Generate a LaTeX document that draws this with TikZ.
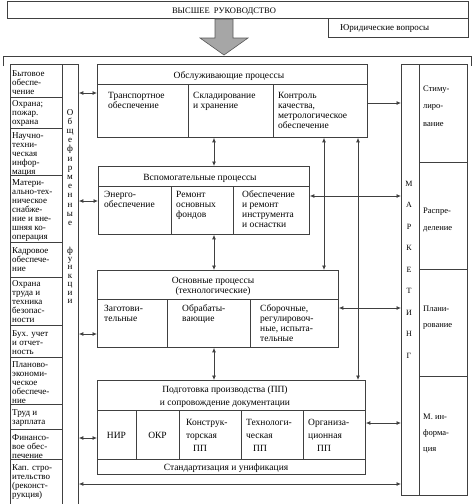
\documentclass[tikz,border=0pt]{standalone}
\usepackage{fontspec}
\setmainfont{Liberation Serif}
\usetikzlibrary{arrows.meta}
\colorlet{lc}{black!75}
\newcommand\fntA{\fontsize{9.5}{10}\selectfont}
\newcommand\fntB{\fontsize{9}{9}\selectfont}
\newcommand\fntM{\fontsize{9.5}{13}\selectfont}
\newcommand\tabL[1]{\begin{tabular}[t]{@{}l@{}}#1\end{tabular}}
\newcommand\tabC[1]{\begin{tabular}[t]{@{}c@{}}#1\end{tabular}}
\begin{document}
\begin{tikzpicture}[x=1pt,y=-1pt,
 box/.style={draw=lc, line width=0.8pt, inner sep=0, anchor=north west},
 txa/.style={font=\fntA, anchor=base west, inner sep=0},
 txb/.style={font=\fntB, anchor=base west, inner sep=0},
 txm/.style={font=\fntM, anchor=base west, inner sep=0},
 hd/.style={font=\fntA, anchor=base, inner sep=0},
 ln/.style={draw=lc, line width=0.8pt},
 tip/.tip={Latex[length=4.5pt,width=4pt]},
 dbl/.style={lc, line width=0.8pt, tip-tip},
 one/.style={lc, line width=0.8pt, -tip},
 vl/.style={font=\fntB, anchor=base, inner sep=0},
 mkl/.style={font=\fontsize{8}{8}\selectfont, anchor=base, inner sep=0},
]
\useasboundingbox (0,0) rectangle (474,504);

% top
\node[box, minimum width=461pt, minimum height=17pt] (top) at (7,1) {};
\node[hd, font=\fontsize{8.5}{10}\selectfont] (ttl) at (224,13) {ВЫСШЕЕ\ \ РУКОВОДСТВО};
\node[box, minimum width=140pt, minimum height=19pt] (jur) at (328,18) {};
\node[txa, font=\fontsize{9}{10}\selectfont] (jurt) at (340,30) {Юридические вопросы};
\draw[fill=black!35, draw=black!65, line width=0.6pt] (215,19) -- (233,19) -- (233,38) -- (248,38) -- (224,55) -- (200,38) -- (215,38) -- cycle;

% frame
\draw[ln] (3,66) -- (3,56) -- (471,56) -- (471,66);

% left column
\node[box, minimum width=52pt, minimum height=442pt] (lcol) at (10,64) {};
\node[box, minimum width=16pt, minimum height=442pt] (gen) at (62,64) {};
\foreach \y in {97,128,175,242,277,325,357,404,429,459} \draw[ln] (10,\y) -- (62,\y);
\node[txb] (l1) at (12,76) {\tabL{Бытовое\\обеспе-\\чение}};
\node[txb] (l2) at (12,106) {\tabL{Охрана;\\пожар.\\охрана}};
\node[txb] (l3) at (12,138) {\tabL{Научно-\\техни-\\ческая\\инфор-\\мация}};
\node[txb] (l4) at (12,185) {\tabL{Матери-\\ально-тех-\\ническое\\снабже-\\ние и вне-\\шняя ко-\\операция}};
\node[txb] (l5) at (12,253) {\tabL{Кадровое\\обеспече-\\ние}};
\node[txb] (l6) at (12,286) {\tabL{Охрана\\труда и\\техника\\безопас-\\ности}};
\node[txb] (l7) at (12,336) {\tabL{Бух. учет\\и отчет-\\ность}};
\node[txb] (l8) at (12,367) {\tabL{Планово-\\экономи-\\ческое\\обеспече-\\ние}};
\node[txb] (l9) at (12,415) {\tabL{Труд и\\зарплата}};
\node[txb] (l10) at (12,440) {\tabL{Финансо-\\вое обес-\\печение}};
\node[txb] (l11) at (12,470) {\tabL{Кап. стро-\\ительство\\(реконст-\\рукция)}};

\foreach \c [count=\i from 0] in {О,б,щ,е,ф,и,р,м,е,н,н,ы,е}
  \node[vl] at (70,{115+9.2*\i}) {\c};
\foreach \c [count=\i from 0] in {ф,у,н,к,ц,и,и}
  \node[vl] at (70,{253+8.4*\i}) {\c};

% marketing column
\node[box, minimum width=66pt, minimum height=431pt] (mk) at (401,64) {};
\draw[ln] (419,64) -- (419,495);
\foreach \y in {162,269,376} \draw[ln] (419,\y) -- (467,\y);
\foreach \c [count=\i from 0] in {М,А,Р,К,Е,Т,И,Н,Г}
  \node[mkl] at (409,{186+21.5*\i}) {\c};
\node[txa, font=\fontsize{8.5}{17.5}\selectfont] (r1) at (423,91) {\tabL{Стиму-\\лиро-\\вание}};
\node[txa, font=\fontsize{8.5}{17}\selectfont] (r2) at (423,213) {\tabL{Распре-\\деление}};
\node[txa, font=\fontsize{8.5}{16}\selectfont] (r3) at (423,311) {\tabL{Плани-\\рование}};
\node[txa, font=\fontsize{8.5}{16}\selectfont] (r4) at (423,419) {\tabL{М. ин-\\форма-\\ция}};

% box 1
\node[box, minimum width=270pt, minimum height=73pt] (b1) at (97,64) {};
\draw[ln] (97,84) -- (367,84);
\draw[ln] (188,84) -- (188,137);
\draw[ln] (273,84) -- (273,137);
\node[hd] (b1h) at (229,78) {Обслуживающие процессы};
\node[txa] (b1a) at (108,98) {\tabL{Транспортное\\обеспечение}};
\node[txa] (b1b) at (193,98) {\tabL{Складирование\\и хранение}};
\node[txa] (b1c) at (278,98) {\tabL{Контроль\\качества,\\метрологическое\\обеспечение}};

% box 2
\node[box, minimum width=211pt, minimum height=68pt] (b2) at (98,166) {};
\draw[ln] (98,186) -- (309,186);
\draw[ln] (171,186) -- (171,234);
\draw[ln] (233,186) -- (233,234);
\node[hd] (b2h) at (200,180) {Вспомогательные процессы};
\node[txa] (b2a) at (104,197) {\tabL{Энерго-\\обеспечение}};
\node[txa] (b2b) at (176,197) {\tabL{Ремонт\\основных\\фондов}};
\node[txa] (b2c) at (242,197) {\tabL{Обеспечение\\и ремонт\\инструмента\\и оснастки}};

% box 3
\node[box, minimum width=241pt, minimum height=77pt] (b3) at (97,270) {};
\draw[ln] (97,299) -- (338,299);
\draw[ln] (167,299) -- (167,347);
\draw[ln] (250,299) -- (250,347);
\node[hd] (b3h) at (213,283) {\tabC{Основные процессы\\(технологические)}};
\node[txa] (b3a) at (104,311) {\tabL{Заготови-\\тельные}};
\node[txa] (b3b) at (182,311) {\tabL{Обрабаты-\\вающие}};
\node[txa] (b3c) at (260,311) {\tabL{Сборочные,\\регулировоч-\\ные, испыта-\\тельные}};

% box 4
\node[box, minimum width=268pt, minimum height=94pt] (b4) at (97,380) {};
\draw[ln] (97,410) -- (365,410);
\draw[ln] (97,459) -- (365,459);
\foreach \x in {136,179,241,303} \draw[ln] (\x,410) -- (\x,459);
\node[hd, font=\fontsize{9.5}{13}\selectfont] (b4h) at (225,392) {\tabC{Подготовка производства (ПП)\\и сопровождение документации}};
\node[hd] (b4a) at (116.5,438) {НИР};
\node[hd] (b4b) at (157.5,438) {ОКР};
\node[txm] (b4c) at (186,425) {\tabL{Конструк-\\торская\\\hspace*{7pt}ПП}};
\node[txm] (b4d) at (246,425) {\tabL{Технологи-\\ческая\\\hspace*{7pt}ПП}};
\node[txm] (b4e) at (308,425) {\tabL{Организа-\\ционная\\\hspace*{9pt}ПП}};
\node[hd] (b4f) at (226,470) {Стандартизация и унификация};

% connector positions
\coordinate (xa) at (214,0);
\coordinate (xb) at (324,0);
\coordinate (xc) at (358,0);
\coordinate (ya1) at (0,93);
\coordinate (ya2) at (0,201);
\coordinate (ya3) at (0,334);
\coordinate (ya4) at (0,438);
\coordinate (yb) at (0,484);
\coordinate (yr1) at (0,103);
\coordinate (yr2) at (0,196);
\coordinate (yr3) at (0,308);
\coordinate (yr4) at (0,423);

\draw[dbl] (b1.south -| xa) -- (b2.north -| xa);
\draw[dbl] (b2.south -| xa) -- (b3.north -| xa);
\draw[dbl] (b3.south -| xa) -- (b4.north -| xa);
\draw[dbl] (b1.south -| xb) -- (b3.north -| xb);
\draw[dbl] (b1.south -| xc) -- (b4.north -| xc);

\draw[dbl] (gen.east |- ya1) -- (b1.west |- ya1);
\draw[dbl] (gen.east |- ya2) -- (b2.west |- ya2);
\draw[dbl] (gen.east |- ya3) -- (b3.west |- ya3);
\draw[dbl] (gen.east |- ya4) -- (b4.west |- ya4);
\draw[dbl] (gen.east |- yb) -- (mk.west |- yb);

\draw[one] (b1.east |- yr1) -- (mk.west |- yr1);
\draw[dbl] (b2.east |- yr2) -- (mk.west |- yr2);
\draw[dbl] (b3.east |- yr3) -- (mk.west |- yr3);
\draw[dbl] (b4.east |- yr4) -- (mk.west |- yr4);
\end{tikzpicture}
\end{document}
